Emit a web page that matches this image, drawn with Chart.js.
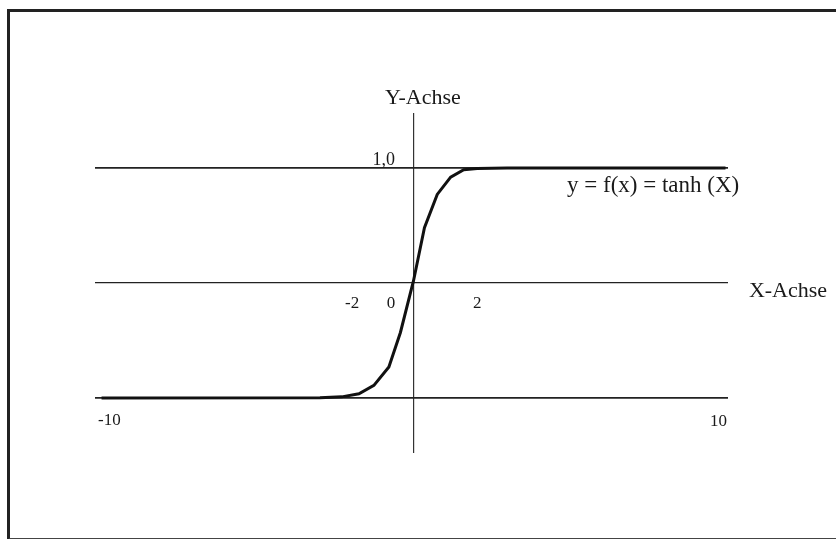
<!DOCTYPE html>
<html>
<head>
<meta charset="utf-8">
<script src="https://cdn.jsdelivr.net/npm/chart.js@4"></script>
<style>
  html, body { margin: 0; padding: 0; background: #fff; }
  #wrap { position: relative; width: 836px; height: 539px; overflow: hidden; }
  #frame { position: absolute; left: 7px; top: 9px; width: 900px; height: 526px;
           border-top: 3px solid #222; border-left: 3px solid #222; border-bottom: 2px solid #444; }
  canvas { position: absolute; left: 0; top: 0; }
</style>
</head>
<body>
<div id="wrap">
  <div id="frame"></div>
  <canvas id="c" width="836" height="539"></canvas>
</div>
<script>
// Curve points (x, y)
const curveX = [-10, -3, -2.3, -1.75, -1.27, -0.79, -0.42, 0, 0.35, 0.76, 1.19, 1.61, 2.04, 3, 10];
const curveY = [-1, -0.998, -0.99, -0.963, -0.89, -0.73, -0.43, 0.02, 0.48, 0.77, 0.92, 0.985, 0.995, 1, 1];

// Reference lines
const hLines = [-1, 0, 1];
const vLines = [0];

// Labels
const labelTexts = ["Y-Achse", "1,0", "-2", "0", "2", "-10", "10", "X-Achse", "y = f(x) = tanh (X)"];
const labelX     = [0.3, -0.59, -1.97, -0.72, 2.04, -10.11, 10.05, 10.75, 4.92];
const labelY     = [1.557, 1.026, -0.217, -0.217, -0.217, -1.235, -1.243, -0.12, 0.79];
const labelAlign = ["center", "right", "center", "center", "center", "left", "right", "left", "left"];
const labelSize  = [22, 18, 17, 17, 17, 17, 17, 22, 23];

const points = curveX.map((x, i) => ({ x: x, y: curveY[i] }));

const textPlugin = {
  id: 'texts',
  afterDraw(chart) {
    const ctx = chart.ctx;
    const xs = chart.scales.x, ys = chart.scales.y;
    ctx.save();
    ctx.fillStyle = '#1a1a1a';
    ctx.textBaseline = 'alphabetic';
    labelTexts.forEach((t, i) => {
      ctx.font = labelSize[i] + 'px "Liberation Serif", "Times New Roman", serif';
      ctx.textAlign = labelAlign[i];
      ctx.fillText(t, xs.getPixelForValue(labelX[i]), ys.getPixelForValue(labelY[i]));
    });
    ctx.restore();
  }
};

new Chart(document.getElementById('c'), {
  type: 'scatter',
  data: {
    datasets: [{
      data: points,
      showLine: true,
      borderColor: '#111',
      borderWidth: 3,
      pointRadius: 0,
      tension: 0,
      fill: false
    }]
  },
  options: {
    responsive: false,
    animation: false,
    layout: { padding: { left: 95, right: 108, top: 113, bottom: 86 } },
    plugins: { legend: { display: false }, tooltip: { enabled: false }, title: { display: false } },
    scales: {
      x: {
        type: 'linear', min: -10.21, max: 10.08,
        afterBuildTicks: (s) => { s.ticks = vLines.map(v => ({ value: v })); },
        ticks: { display: false },
        border: { display: false },
        grid: { color: '#333', lineWidth: 1.2, drawTicks: false }
      },
      y: {
        type: 'linear', min: -1.478, max: 1.478,
        afterBuildTicks: (s) => { s.ticks = hLines.map(v => ({ value: v })); },
        ticks: { display: false },
        border: { display: false },
        grid: { color: '#222', lineWidth: (c) => (c.tick && c.tick.value === 0 ? 1.2 : 1.8), drawTicks: false }
      }
    }
  },
  plugins: [textPlugin]
});
</script>
</body>
</html>
